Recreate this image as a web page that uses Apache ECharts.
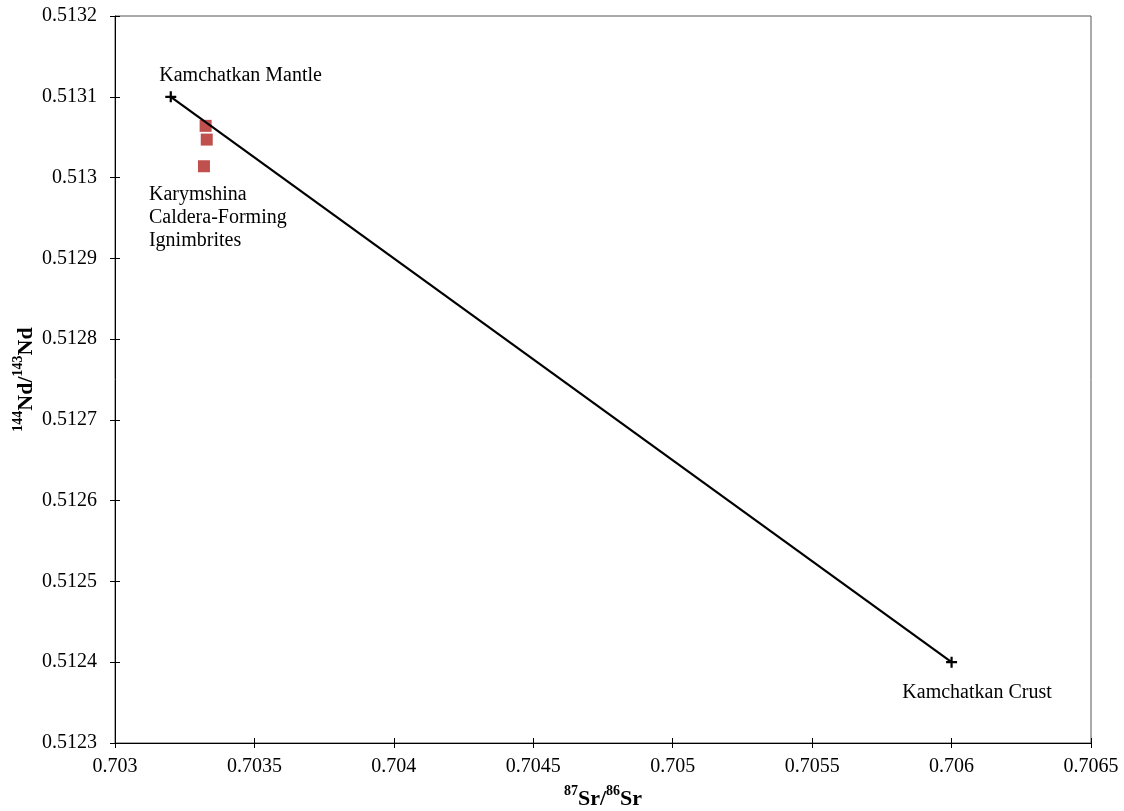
<!DOCTYPE html>
<html>
<head>
<meta charset="utf-8">
<script src="https://cdn.jsdelivr.net/npm/echarts@6/dist/echarts.min.js"></script>
<style>
  html, body { margin: 0; padding: 0; background: #fff; }
  #chart { width: 1124px; height: 811px; }
</style>
</head>
<body>
<div id="chart"></div>
<script>
// end members of the mixing line: [87Sr/86Sr, 144Nd/143Nd]
const endMemberNames = ['Kamchatkan Mantle', 'Kamchatkan Crust']
const endMemberSr = [0.7032, 0.706]
const endMemberNd = [0.5131, 0.5124]

// Karymshina caldera-forming ignimbrites
const ignimbriteSr = [0.703325, 0.703329, 0.703319]
const ignimbriteNd = [0.513064, 0.513047, 0.513014]

const xTicks = [0.703, 0.7035, 0.704, 0.7045, 0.705, 0.7055, 0.706, 0.7065]
const yTicks = [0.5123, 0.5124, 0.5125, 0.5126, 0.5127, 0.5128, 0.5129, 0.513, 0.5131, 0.5132]

const FONT = '"Liberation Serif", "DejaVu Serif", serif'
const FS = 20
const plus = 'path://M4,0H6V10H4Z M0,4H10V6H0Z'

function fmt(v) {
  return String(parseFloat(v.toFixed(5)))
}

const titleRich = {
  b: { fontSize: 22, fontWeight: 'bold', color: '#000', fontFamily: FONT, lineHeight: 26, verticalAlign: 'bottom' },
  sup: { fontSize: 14, fontWeight: 'bold', color: '#000', fontFamily: FONT, lineHeight: 26, verticalAlign: 'top' }
}

const chart = echarts.init(document.getElementById('chart'))

const xBase = {
  type: 'value',
  min: xTicks[0],
  max: xTicks[xTicks.length - 1],
  interval: 0.0005,
  splitLine: { show: false }
}
const yBase = {
  type: 'value',
  min: yTicks[0],
  max: yTicks[yTicks.length - 1],
  interval: 0.0001,
  splitLine: { show: false }
}

chart.setOption({
  animation: false,
  textStyle: { fontFamily: FONT },
  grid: {
    left: 115, right: 33, top: 16, bottom: 68,
    outerBoundsMode: 'none',
    containLabel: false,
    show: true, borderColor: '#555', borderWidth: 1
  },
  xAxis: [
    Object.assign({}, xBase, {
      axisLine: { show: true, lineStyle: { color: '#000', width: 1 } },
      axisTick: { show: true, length: 5, lineStyle: { color: '#000' } },
      axisLabel: { color: '#000', fontSize: FS, margin: 14, formatter: fmt, fontFamily: FONT, verticalAlign: 'top' },
      name: '{sup|87}{b|Sr/}{sup|86}{b|Sr}',
      nameLocation: 'middle',
      nameGap: 41,
      nameMoveOverlap: false,
      nameTextStyle: { rich: titleRich }
    }),
    Object.assign({}, xBase, {
      position: 'bottom',
      axisLine: { show: false },
      axisTick: { show: true, inside: true, length: 5, lineStyle: { color: '#000' } },
      axisLabel: { show: false }
    })
  ],
  yAxis: [
    Object.assign({}, yBase, {
      axisLine: { show: true, lineStyle: { color: '#000', width: 1 } },
      axisTick: { show: true, length: 5, lineStyle: { color: '#000' } },
      axisLabel: { color: '#000', fontSize: FS, margin: 18, formatter: fmt, fontFamily: FONT },
      name: '{sup|144}{b|Nd/}{sup|143}{b|Nd}',
      nameLocation: 'middle',
      nameGap: 78,
      nameMoveOverlap: false,
      nameTextStyle: { rich: titleRich }
    }),
    Object.assign({}, yBase, {
      position: 'left',
      axisLine: { show: false },
      axisTick: { show: true, inside: true, length: 5, lineStyle: { color: '#000' } },
      axisLabel: { show: false }
    })
  ],
  series: [
    {
      name: 'Mixing line',
      type: 'line',
      symbol: plus,
      symbolSize: 11,
      showAllSymbol: true,
      lineStyle: { color: '#000', width: 2.2 },
      itemStyle: { color: '#000' },
      data: endMemberSr.map((x, i) => ({
        value: [x, endMemberNd[i]],
        label: i === 0
          ? { show: true, formatter: endMemberNames[i], position: [-6, -16], align: 'left', verticalAlign: 'middle', fontSize: FS, color: '#000', fontFamily: FONT }
          : { show: true, formatter: endMemberNames[i], position: [31, 36], align: 'center', verticalAlign: 'middle', fontSize: FS, color: '#000', fontFamily: FONT }
      })),
      z: 3
    },
    {
      name: 'Karymshina Caldera-Forming Ignimbrites',
      type: 'scatter',
      symbol: 'rect',
      symbolSize: 12,
      itemStyle: { color: '#C0504D', opacity: 1 },
      data: ignimbriteSr.map((x, i) => ({
        value: [x, ignimbriteNd[i]],
        label: i === ignimbriteSr.length - 1
          ? {
              show: true,
              formatter: 'Karymshina\nCaldera-Forming\nIgnimbrites',
              position: [-49, 23],
              align: 'left',
              verticalAlign: 'top',
              lineHeight: 23,
              fontSize: FS,
              color: '#000',
              opacity: 1,
              fontFamily: FONT
            }
          : { show: false }
      })),
      z: 2
    }
  ]
})
</script>
</body>
</html>
